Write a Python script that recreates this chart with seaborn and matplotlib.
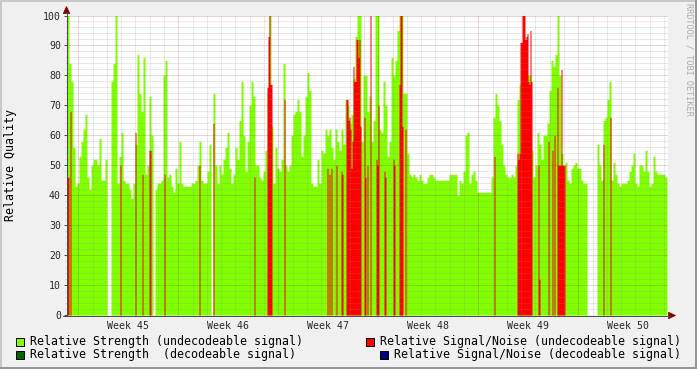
import numpy as np
import pandas as pd
import matplotlib
matplotlib.use("Agg")
import matplotlib.pyplot as plt
import seaborn as sns
from matplotlib.transforms import Affine2D
from matplotlib.patches import Rectangle, Polygon
from matplotlib.lines import Line2D

# ---------------- data ----------------
week_labels = ["Week 45", "Week 46", "Week 47", "Week 48", "Week 49", "Week 50"]
y_ticks = [0, 10, 20, 30, 40, 50, 60, 70, 80, 90, 100]

# time axis (days, relative to start of Week 45)
start_day = -0.79        # first sample
sample_days = 0.14       # spacing of strength samples
slot_days = 0.07         # spacing of signal/noise samples
n_slots = 601

# Relative Strength (undecodeable signal), one value per sample
strength_undecodeable = (
    [100, 84, 78, 56, 43, 44, 53, 58, 62, 67, 46, 42, 50, 52, 52, 50, 59, 45, 45, 52,
     0, 0, 78, 84, 100, 44, 53, 61, 45, 44, 44, 42, 39, 44, 57, 87, 74, 68, 86, 47,
     50, 73, 60, 0, 42, 44, 44, 45, 80, 85, 46]
    + [47, 43, 41, 49, 44, 58, 44, 43, 43, 43, 43, 44, 44, 45, 50, 58, 45, 44, 44, 48,
       57, 0, 74, 50, 44, 50, 47, 52, 56, 61, 49, 44, 47, 56, 52, 65, 78, 60, 48, 58,
       70, 78, 73, 50, 50, 46, 45, 48, 55, 74, 100, 63]
    + [44, 56, 49, 48, 52, 84, 50, 48, 50, 60, 67, 68, 72, 68, 53, 60, 73, 81, 75, 44,
       43, 43, 52, 44, 55, 54, 62, 60, 62, 56, 52, 62, 58, 55, 62, 57, 72, 70, 64, 67,
       79, 93, 100, 100, 58, 80, 80, 68, 73, 58, 65, 100, 100]
    + [62, 61, 78, 70, 53, 58, 86, 80, 85, 95, 100, 100, 74, 74, 54, 47, 46, 47, 46, 45,
       47, 45, 44, 44, 46, 47, 47, 46, 45, 45, 45, 45, 45, 45, 45, 47, 47, 47, 47, 40,
       45, 44, 48, 60, 61, 44, 47, 48, 45, 41, 41, 41, 41]
    + [41, 41, 41, 46, 66, 74, 70, 65, 57, 50, 47, 46, 46, 47, 46, 50, 72, 77, 81, 60,
       60, 80, 80, 55, 46, 50, 61, 57, 52, 60, 60, 64, 75, 85, 83, 87, 100, 80, 54, 50,
       51, 45, 44, 49, 50, 51, 49, 49, 45, 44, 44]
    + [0, 0, 0, 0, 0]
    + [57, 50, 45, 65, 66, 72, 78, 45, 51, 47, 44, 43, 44, 44, 44, 45, 48, 50, 54, 44,
       43, 50, 50, 48, 55, 48, 43, 44, 53, 48, 47, 47, 47, 47, 46]
)

# Relative Signal/Noise (undecodeable signal): slot index and value
snr_slot = [0, 1, 3, 53, 68, 75, 82, 83, 97,
            132, 146, 187, 200, 201, 202, 203, 204,
            217, 260, 262, 264, 269, 274, 275, 279, 280, 281, 282, 283, 284, 285, 286,
            287, 288, 289, 290, 291, 292, 293, 297, 298, 300, 303, 309, 310, 311,
            317, 318, 326, 327, 332, 333, 334, 335, 338,
            427, 450, 451, 452, 453, 454, 455, 456, 457, 458, 459, 460, 461, 462, 463,
            464, 471, 472, 481, 485, 487, 490, 491, 492, 493, 494, 495, 496, 497,
            536, 543]
snr_value = [46, 46, 68, 50, 61, 47, 55, 55, 47,
             50, 64, 46, 76, 93, 100, 77, 77,
             72, 49, 47, 49, 50, 48, 47, 72, 72, 65, 66, 62, 49, 58, 83,
             78, 78, 92, 92, 86, 92, 63, 66, 46, 50, 100, 52, 50, 70,
             48, 46, 52, 50, 77, 100, 100, 63, 62,
             53, 54, 52, 54, 91, 91, 100, 100, 100, 92, 93, 94, 78, 77, 95,
             78, 50, 12, 58, 55, 60, 76, 50, 50, 50, 82, 50, 50, 50,
             57, 66]

legend_labels = ["Relative Strength (undecodeable signal)",
                 "Relative Strength  (decodeable signal)",
                 "Relative Signal/Noise (undecodeable signal)",
                 "Relative Signal/Noise (decodeable signal)"]

# ---------------- style ----------------
GREEN = "#80FF00"
DKGREEN = "#006400"
RED = "#FF0000"
BLUE = "#000080"
BACK = "#F0F0F0"
GRID = "#8C8C8C"
MGRID = "#821E1E"
ARROW = "#7F0000"
AXIS = "#4B4B4B"

sns.set_style("white")
plt.rcParams["font.family"] = ["DejaVu Sans Mono"]

W, H = 697, 369
fig = plt.figure(figsize=(W / 100, H / 100), dpi=100, facecolor=BACK)
px = Affine2D().scale(1, -1).translate(0, H)   # pixel coords, origin top-left

ax = fig.add_axes([67 / W, 54 / H, 601 / W, 299.5 / H])
ax.set_facecolor("white")

# strength area
n = len(strength_undecodeable)
edges = [float(e) for e in start_day + sample_days * np.arange(n + 1)]
strength_df = pd.DataFrame({"day": np.array(edges[:-1]) + sample_days / 2,
                            "quality": np.asarray(strength_undecodeable, dtype=float)})
sns.histplot(data=strength_df, x="day", weights="quality", bins=edges, element="step",
             fill=True, color=GREEN, alpha=1, linewidth=0, antialiased=False,
             ax=ax, legend=False, zorder=2)

# signal/noise bars
slot_edges = [float(e) for e in start_day + slot_days * np.arange(n_slots + 1)]
snr_df = pd.DataFrame({"day": start_day + slot_days * (np.array(snr_slot) + 0.5),
                       "quality": np.asarray(snr_value, dtype=float)})
sns.histplot(data=snr_df, x="day", weights="quality", bins=slot_edges, element="step",
             fill=True, color=RED, alpha=1, linewidth=0, antialiased=False,
             ax=ax, legend=False, zorder=2.5)

x_left = start_day
x_right = start_day + slot_days * n_slots
ax.set_xlim(x_left, x_right)
ax.set_ylim(0, 100)
for s in ax.spines.values():
    s.set_visible(False)
ax.set_xlabel("")
ax.set_ylabel("")

# grid on top (rrdtool style, semi transparent dotted)
lw = 0.72
for v in range(2, 101, 2):
    c = MGRID if v % 10 == 0 else GRID
    ax.axhline(v, color=c, alpha=0.375, lw=lw, ls=(0, (1, 1)), zorder=3)
for d in range(0, 42):
    c = MGRID if d % 7 == 0 else GRID
    ax.axvline(d, color=c, alpha=0.375, lw=lw, ls=(0, (1, 1)), zorder=3)

# ticks
ax.set_yticks(y_ticks)
ax.set_yticklabels([str(t) for t in y_ticks])
ax.set_yticks(list(range(0, 101, 2)), minor=True)
ax.set_xticks([3.5 + 7 * k for k in range(len(week_labels))])
ax.set_xticklabels(week_labels)
ax.set_xticks(list(range(0, 42)), minor=True)
ax.tick_params(axis="y", which="major", length=2.2, width=0.72, color=AXIS,
               labelsize=7.1, pad=2.2, left=True)
ax.tick_params(axis="y", which="minor", length=1.5, width=0.72, color="#D4D4D4", left=True)
ax.tick_params(axis="x", which="major", length=0, labelsize=7.1, pad=4.0, bottom=True)
ax.tick_params(axis="x", which="minor", length=1.5, width=0.72, color="#D4D4D4", bottom=True)
for d, t in zip(range(0, 42), ax.xaxis.get_minor_ticks()):
    if d % 7 == 0:
        t.tick1line.set_color("#D0AAAA")

# axis lines and arrows (pixel coordinates)
fig.add_artist(Line2D([66.5, 66.5], [316, 12], color=AXIS, lw=0.72, transform=px))
fig.add_artist(Line2D([63, 670], [315.5, 315.5], color=AXIS, lw=0.72, transform=px))
fig.add_artist(Polygon([[66.5, 6.5], [63.2, 13.5], [69.8, 13.5]], closed=True,
                       facecolor=ARROW, edgecolor=ARROW, lw=0.5, transform=px))
fig.add_artist(Polygon([[675.5, 315.5], [668.5, 312.2], [668.5, 318.8]], closed=True,
                       facecolor=ARROW, edgecolor=ARROW, lw=0.5, transform=px))

# y label
fig.text(11 / W, 1 - 165 / H, "Relative Quality", rotation=90, ha="center", va="center",
         fontsize=8.4, color="black")

# side watermark
fig.text(688.5 / W, 1 - 3 / H, "RRDTOOL / TOBI OETIKER", rotation=270, ha="center",
         va="top", fontsize=6.1, color="#ABABAB")

# legend
legend_items = [
    (15, 337, GREEN, legend_labels[0]),
    (15, 350, DKGREEN, legend_labels[1]),
    (365, 337, RED, legend_labels[2]),
    (379, 350, BLUE, legend_labels[3]),
]
for bx, by, col, lab in legend_items:
    fig.add_artist(Rectangle((bx + 0.5, by + 0.5), 8, 8, facecolor=col, edgecolor="black",
                             lw=0.72, transform=px))
    fig.text((bx + 15) / W, 1 - (by + 4.8) / H, lab, ha="left", va="center",
             fontsize=8.4, color="black")

# frame (rrdtool shading)
fig.add_artist(Rectangle((0, 0), W, 2, facecolor="#C8C8C8", edgecolor="none", transform=px))
fig.add_artist(Rectangle((0, 0), 2, H, facecolor="#C8C8C8", edgecolor="none", transform=px))
fig.add_artist(Rectangle((0, H - 2), W, 2, facecolor="#969696", edgecolor="none", transform=px))
fig.add_artist(Rectangle((W - 2, 0), 2, H, facecolor="#969696", edgecolor="none", transform=px))

fig.savefig("out.png", dpi=100, facecolor=BACK)
